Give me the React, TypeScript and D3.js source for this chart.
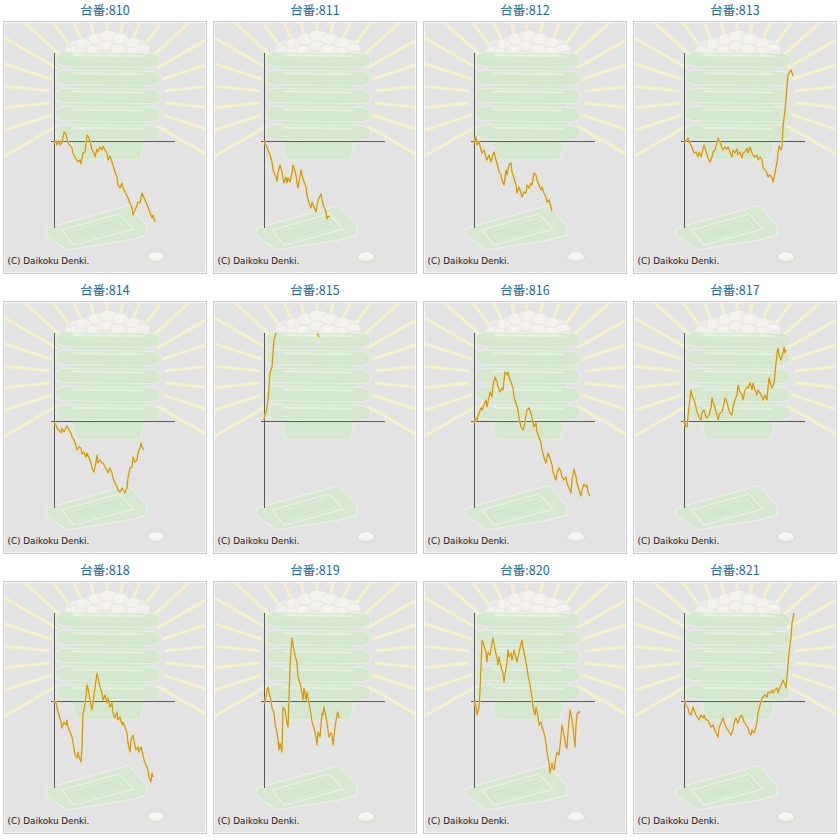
import React from "react";
import * as d3 from "d3";

// machine numbers (titles)
const machines = ["810", "811", "812", "813", "814", "815", "816", "817", "818", "819", "820", "821"];

// [games, coin difference]
const m810 = [[0,-200],[200,0],[300,-400],[500,0],[600,-400],[800,-200],[1000,900],[1200,700],[1400,-200],[1800,-700],[1900,-1200],[2100,-1600],[2400,-2100],[2600,-1900],[2700,-2300],[2900,-1200],[3100,-1100],[3300,600],[3400,500],[3600,0],[3800,-900],[4000,-1200],[4100,-1600],[4300,-800],[4400,-1100],[4600,-600],[4800,-900],[4900,-500],[5100,-900],[5300,-1200],[5400,-1900],[5600,-1500],[5800,-2100],[5900,-2400],[6100,-3100],[6300,-3600],[6400,-4400],[6600,-4700],[6800,-4200],[6900,-4700],[7100,-5100],[7400,-5700],[7600,-6200],[7800,-6700],[7900,-7400],[8100,-6900],[8300,-6400],[8400,-6100],[8600,-6200],[8800,-5200],[9000,-5700],[9200,-6100],[9400,-6600],[9500,-6900],[9700,-7400],[9800,-7700],[9900,-7400],[10100,-8100]];
const m811 = [[0,0],[200,-400],[400,-900],[600,-1400],[800,-2100],[900,-2900],[1200,-3600],[1300,-4000],[1400,-3200],[1600,-2400],[1800,-3100],[1900,-3700],[2000,-4200],[2200,-3600],[2300,-4200],[2400,-3700],[2600,-4100],[2800,-3200],[2900,-2400],[3000,-2700],[3200,-3400],[3300,-4200],[3400,-4700],[3500,-4100],[3700,-2900],[3800,-3400],[4000,-4100],[4200,-4600],[4300,-5400],[4500,-6200],[4700,-6700],[4800,-6100],[5000,-6600],[5200,-7100],[5300,-6400],[5500,-5700],[5700,-5300],[5800,-5900],[6000,-6600],[6200,-7100],[6300,-7800],[6400,-7500],[6600,-7600]];
const m812 = [[0,-200],[200,400],[300,-400],[500,-100],[700,-900],[800,-1200],[1000,-900],[1200,-1600],[1300,-1900],[1500,-1400],[1700,-2100],[1800,-1700],[2000,-1100],[2200,-1900],[2400,-2600],[2500,-3100],[2700,-3400],[2800,-3900],[3000,-4400],[3200,-2900],[3300,-3400],[3500,-2400],[3700,-2200],[3800,-3100],[4000,-3700],[4200,-4400],[4300,-5200],[4500,-4600],[4700,-5200],[4800,-5600],[5000,-5100],[5200,-5200],[5300,-4400],[5500,-4700],[5700,-4200],[5800,-4400],[6000,-3200],[6200,-3400],[6300,-3900],[6500,-4400],[6700,-4900],[6800,-4600],[7000,-5200],[7200,-5600],[7300,-6100],[7500,-5900],[7700,-6600],[7800,-7000]];
const m813 = [[0,-100],[300,100],[400,300],[500,-100],[700,-400],[900,-900],[1000,-1200],[1200,-1100],[1400,-1600],[1500,-1100],[1700,-1600],[1800,-1200],[2000,-400],[2100,-700],[2300,-1400],[2400,-1700],[2600,-2100],[2800,-1600],[2900,-1100],[3100,-900],[3300,-200],[3400,300],[3600,-100],[3800,-700],[3900,-900],[4100,-600],[4300,-800],[4400,-600],[4600,-1100],[4800,-1600],[4900,-900],[5100,-1200],[5300,-800],[5400,-1400],[5600,-1100],[5800,-1700],[5900,-1200],[6100,-1100],[6300,-700],[6400,-1200],[6600,-600],[6800,-1200],[6900,-1400],[7100,-1600],[7300,-1400],[7400,-1900],[7600,-1600],[7800,-1900],[7900,-2600],[8100,-2900],[8300,-3200],[8400,-3600],[8600,-3400],[8800,-3700],[8900,-4100],[9100,-3200],[9200,-2600],[9300,-2200],[9400,-1200],[9500,-500],[9700,-900],[9800,-600],[9900,1400],[10100,3100],[10300,5400],[10400,6600],[10500,6800],[10700,7100],[10800,6800],[10900,6500]];
const m814 = [[0,-100],[200,-400],[300,-700],[500,-900],[700,-1200],[800,-700],[1000,-1100],[1200,-700],[1300,-500],[1500,-900],[1700,-1200],[1800,-1600],[2000,-1900],[2200,-2400],[2300,-2900],[2500,-2600],[2700,-2700],[2800,-3300],[3000,-3100],[3200,-3600],[3300,-3200],[3500,-3700],[3700,-4200],[3800,-4700],[4000,-5100],[4200,-4100],[4300,-3400],[4400,-4200],[4600,-3900],[4800,-4200],[4900,-4200],[5100,-4600],[5300,-4900],[5400,-5200],[5600,-4700],[5800,-5200],[5900,-5700],[6100,-6200],[6300,-6600],[6400,-6900],[6600,-7100],[6800,-6700],[6900,-6900],[7100,-7200],[7300,-6600],[7400,-5700],[7600,-4700],[7800,-4600],[7900,-3600],[8100,-4100],[8300,-3900],[8400,-3200],[8600,-2700],[8700,-2200],[8800,-2600],[9000,-2900]];
const m815 = [[0,100],[100,600],[200,800],[400,2100],[500,3400],[600,4800],[800,5400],[900,6800],[1000,8100],[1200,8800],[1500,10500],[2000,12500],[2500,13500],[3000,14000],[3500,13500],[4000,12500],[4500,11500],[5000,10500],[5300,9300],[5400,8600],[5500,8400]];
const m816 = [[0,-200],[200,300],[300,100],[500,800],[700,1300],[800,1100],[1000,1600],[1200,2100],[1300,1400],[1400,1900],[1600,2900],[1800,2400],[1900,3600],[2100,4400],[2300,3900],[2400,3400],[2600,2900],[2800,3300],[2900,3100],[3100,4900],[3300,4600],[3400,4900],[3500,4400],[3700,3900],[3900,3300],[4000,2400],[4200,1800],[4400,1100],[4500,300],[4700,-600],[4900,-900],[5000,-600],[5200,600],[5300,1100],[5500,1300],[5700,800],[5800,300],[6000,-600],[6200,-200],[6300,-1100],[6500,-1600],[6700,-2200],[6800,-2900],[7000,-3600],[7200,-4200],[7300,-3700],[7400,-3200],[7600,-3700],[7800,-4400],[7900,-5100],[8200,-5900],[8300,-5200],[8500,-4700],[8700,-5100],[8800,-5600],[9000,-5900],[9200,-5600],[9300,-6200],[9500,-6700],[9700,-7200],[9800,-5900],[10000,-4800],[10200,-5600],[10300,-6200],[10500,-6900],[10700,-7500],[10800,-6900],[11000,-6300],[11200,-6600],[11300,-6400],[11400,-7100],[11600,-7500]];
const m817 = [[0,0],[100,-200],[200,-600],[300,-600],[500,1400],[700,3100],[800,2600],[1000,2100],[1200,1400],[1300,900],[1500,400],[1700,100],[1800,900],[2000,1100],[2200,400],[2300,300],[2500,600],[2700,1300],[2800,2300],[2900,1900],[3100,1300],[3300,600],[3400,100],[3600,800],[3800,900],[3900,1300],[4100,2300],[4300,1900],[4400,1400],[4600,800],[4800,600],[4900,1400],[5100,2100],[5300,2600],[5400,3600],[5600,2900],[5800,2600],[5900,2100],[6100,3100],[6300,3400],[6400,3300],[6600,3800],[6800,3100],[6900,3800],[7100,3100],[7300,2600],[7400,3100],[7600,2800],[7800,2400],[7900,2100],[8100,2600],[8300,2100],[8400,3300],[8500,4300],[8700,3600],[8800,3300],[9000,3800],[9100,4800],[9300,6800],[9400,7300],[9500,6600],[9700,6100],[9900,6800],[10000,7400],[10100,6800],[10200,7100]];
const m818 = [[0,0],[200,-100],[300,-700],[500,-1400],[700,-2100],[800,-2700],[1000,-2100],[1200,-2400],[1300,-1900],[1400,-2600],[1600,-3100],[1800,-3600],[1900,-4200],[2100,-5400],[2300,-5700],[2400,-5100],[2500,-5600],[2700,-6100],[2800,-4600],[2900,-1200],[3000,-900],[3200,400],[3300,1600],[3400,1300],[3600,100],[3800,-900],[3900,-100],[4100,1300],[4300,2800],[4400,2300],[4600,1400],[4800,800],[4900,100],[5100,600],[5300,-200],[5400,300],[5600,-600],[5800,-200],[5900,-1200],[6100,-1700],[6300,-1100],[6400,-1900],[6600,-1600],[6800,-2400],[6900,-2100],[7100,-2600],[7300,-3200],[7400,-4200],[7600,-5100],[7700,-3900],[7900,-3400],[8000,-4100],[8200,-4900],[8400,-4600],[8500,-5100],[8700,-4600],[8900,-5400],[9000,-5900],[9200,-6400],[9400,-6900],[9500,-7600],[9700,-8100],[9800,-7200],[9900,-7600]];
const m819 = [[0,-100],[100,-200],[200,400],[300,1100],[400,1400],[500,800],[700,100],[800,-700],[1000,-1200],[1100,-2200],[1300,-3200],[1400,-3900],[1500,-4900],[1600,-4200],[1800,-5100],[1900,-600],[2100,-900],[2300,-2200],[2400,-2600],[2500,100],[2600,3400],[2800,6300],[2900,5600],[3100,4600],[3300,3800],[3400,2400],[3600,1800],[3800,800],[3900,100],[4000,1300],[4200,100],[4300,900],[4500,-200],[4700,-1400],[4800,-2100],[5000,-2700],[5200,-3600],[5300,-4400],[5400,-3100],[5600,-3600],[5800,-1200],[5900,-1400],[6000,-600],[6200,-1600],[6300,-2200],[6500,-3600],[6700,-3200],[6800,-3400],[6900,-4400],[7100,-2600],[7300,-1400],[7400,-1100],[7500,-1700]];
const m820 = [[0,0],[200,-600],[300,-1400],[500,-600],[600,1100],[700,3400],[800,6100],[1000,5600],[1200,4800],[1300,3900],[1400,4900],[1600,4600],[1800,5800],[1900,6300],[2100,5100],[2300,4300],[2400,3600],[2500,4400],[2700,3400],[2900,2800],[3000,1900],[3100,2600],[3300,3800],[3400,5100],[3500,4400],[3700,4800],[3800,4100],[4000,5100],[4200,4300],[4300,3900],[4500,4900],[4600,5300],[4800,6100],[4900,5300],[5100,4400],[5300,3300],[5400,2600],[5600,1600],[5800,400],[5900,-600],[6100,-1400],[6200,-600],[6400,-1600],[6500,-2400],[6700,-2100],[6800,-2600],[7000,-3200],[7200,-4200],[7300,-5100],[7500,-6200],[7600,-7200],[7800,-6200],[7900,-6700],[8000,-6900],[8200,-5600],[8300,-5100],[8500,-5400],[8700,-3600],[8800,-2400],[9000,-3400],[9200,-4600],[9300,-4700],[9400,-3100],[9600,-900],[9800,-1900],[9900,-2600],[10100,-4600],[10200,-2400],[10300,-1400],[10400,-1100],[10500,-1200],[10600,-1000]];
const m821 = [[0,0],[100,-100],[200,-400],[400,-700],[500,-1200],[700,-1400],[900,-600],[1000,-900],[1200,-1400],[1400,-1700],[1500,-1900],[1700,-1400],[1900,-1700],[2000,-1400],[2200,-1900],[2400,-1900],[2500,-2200],[2700,-2600],[2900,-2400],[3000,-2700],[3200,-3200],[3400,-3600],[3500,-2700],[3700,-2200],[3900,-1700],[4000,-2100],[4200,-2600],[4400,-2900],[4500,-3100],[4700,-3400],[4900,-2900],[5000,-2200],[5200,-1700],[5400,-2200],[5500,-1900],[5700,-1400],[5900,-1700],[6000,-2100],[6200,-2400],[6400,-2700],[6500,-3100],[6700,-3400],[6800,-2900],[7000,-3200],[7200,-2600],[7300,-2100],[7400,-1200],[7600,-400],[7800,300],[7900,400],[8100,600],[8300,400],[8400,900],[8600,800],[8800,1100],[8900,800],[9100,1100],[9300,1300],[9400,800],[9600,1400],[9800,1800],[9900,2100],[10100,1600],[10200,1300],[10300,2400],[10500,4800],[10700,6400],[10800,7800],[11000,8800]];

const seriesList = [m810, m811, m812, m813, m814, m815, m816, m817, m818, m819, m820, m821];

const xDomain = [0, 12000];
const yDomain = [-8700, 8800];
const copyright = "(C) Daikoku Denki.";

const BOX_W = 204;
const BOX_H = 253;

function Decor() {
  const cx = 104, cy = 76;
  const angles = d3.range(-30, 211, 12);
  const balls = [
    [70, 30, 8, 5], [81, 23, 8, 6], [93, 18, 8, 6], [105, 15, 9, 6], [117, 18, 8, 6], [129, 22, 8, 6], [140, 28, 8, 5],
    [78, 32, 7, 5], [91, 29, 8, 5], [103, 25, 8, 5], [115, 28, 8, 5], [128, 31, 7, 5], [142, 34, 6, 4], [66, 35, 6, 4],
    [97, 34, 7, 4], [110, 35, 7, 4],
  ];
  const trays = d3.range(5);
  return (
    <g>
      {angles.map((a, i) => {
        const r = (a * Math.PI) / 180;
        return (
          <line key={i} x1={cx + 58 * Math.cos(r)} y1={cy - 58 * Math.sin(r)} x2={cx + 170 * Math.cos(r)} y2={cy - 170 * Math.sin(r)}
            stroke="#f5f2c9" strokeWidth={3} />
        );
      })}
      <g opacity={0.9}>
        <ellipse cx={105} cy={28} rx={43} ry={14} fill="#efeeea" />
        {balls.map((b, i) => (
          <ellipse key={i} cx={b[0]} cy={b[1]} rx={b[2]} ry={b[3]} fill="#f4f3f0" stroke="#dddcd6" strokeWidth={0.6} />
        ))}
        {[82, 98, 108, 124].map((x, i) => (
          <line key={i} x1={x} y1={20} x2={x} y2={40} stroke="#f3eec4" strokeWidth={1} />
        ))}
      </g>
      <g opacity={0.8}>
        <rect x={68} y={32} width={74} height={90} fill="#d3e8cd" />
        {trays.map((i) => {
          const y0 = 31 + i * 18.2;
          return (
            <g key={i}>
              <path d={`M53,${y0 + 3} L60,${y0} L150,${y0 + 1} L157,${y0 + 4} L157,${y0 + 13} L150,${y0 + 15} L60,${y0 + 14} L53,${y0 + 12} Z`}
                fill="#d3e9cc" stroke="#eef6ea" strokeWidth={0.8} />
              <line x1={70} y1={y0 + 3} x2={140} y2={y0 + 4} stroke="#e6f3e2" strokeWidth={2} />
              <line x1={60} y1={y0 + 13} x2={150} y2={y0 + 14} stroke="#cde4c7" strokeWidth={1} />
            </g>
          );
        })}
        <path d="M68,120 L142,120 L137,139 L74,139 Z" fill="#d3e9cc" stroke="#eef6ea" strokeWidth={0.8} />
      </g>
      <g opacity={0.8}>
        <path d="M44,207 L126,184.5 L144,205 L144,214 L126,219 L64,229 L42.5,214 Z" fill="#d5e9cf" stroke="#f2f8ef" strokeWidth={1} />
        <path d="M59,209 L116,193 L130,208 L71,224 Z" fill="#d1e7cb" stroke="#e9f4e5" strokeWidth={1.5} />
        <path d="M68,210 L114,197 L122,207 L75,220 Z" fill="none" stroke="#e0efdb" strokeWidth={1} />
      </g>
      <ellipse cx={153} cy={236} rx={9} ry={5} fill="#eeeeea" stroke="#d2d2cc" strokeWidth={0.8} />
      <ellipse cx={153} cy={234.5} rx={7} ry={3.2} fill="#f6f6f3" />
    </g>
  );
}

function Panel({ index }: { index: number }) {
  const col = index % 4;
  const row = Math.floor(index / 4);
  const bx = 3 + col * 210;
  const by = 21 + row * 280;
  const axisX = bx + 51;
  const axisTop = by + 32;
  const axisBottom = by + 207;
  const x = d3.scaleLinear().domain(xDomain).range([axisX, axisX + 120]);
  const y = d3.scaleLinear().domain(yDomain).range([axisBottom, axisTop]);
  const data = seriesList[index];
  const line = d3.line<number[]>().x((d) => x(d[0])).y((d) => y(d[1]));
  const clipId = `clip-${index}`;
  const boxClip = `boxclip-${index}`;
  return (
    <g>
      <text x={bx + BOX_W / 2} y={by - 6} textAnchor="middle" fontSize={12.5} fill="#21699b"
        fontFamily="'Noto Sans CJK JP', 'DejaVu Sans', sans-serif">{`台番:${machines[index]}`}</text>
      <defs>
        <clipPath id={clipId}>
          <rect x={bx} y={axisTop} width={BOX_W} height={axisBottom - axisTop} />
        </clipPath>
        <clipPath id={boxClip}>
          <rect x={bx + 2} y={by + 2} width={BOX_W - 4} height={BOX_H - 4} />
        </clipPath>
      </defs>
      <rect x={bx + 0.5} y={by + 0.5} width={BOX_W - 1} height={BOX_H - 1} fill="#e3e3e3" stroke="#c9c9c9" strokeWidth={1} />
      <rect x={bx + 1.5} y={by + 1.5} width={BOX_W - 3} height={BOX_H - 3} fill="none" stroke="#f7f7f7" strokeWidth={1} />
      <g clipPath={`url(#${boxClip})`}>
        <g transform={`translate(${bx},${by})`}>
          <Decor />
        </g>
      </g>
      <line x1={axisX + 0.5} y1={axisTop} x2={axisX + 0.5} y2={axisBottom} stroke="#5a5a5a" strokeWidth={1} />
      <line x1={x(-300)} y1={Math.round(y(0)) + 0.5} x2={x(12100)} y2={Math.round(y(0)) + 0.5} stroke="#5a5a5a" strokeWidth={1} />
      <g clipPath={`url(#${clipId})`}>
        <path d={line(data) || ""} fill="none" stroke="#f2df9c" strokeWidth={2.6} strokeLinejoin="round" opacity={0.6} />
        <path d={line(data) || ""} fill="none" stroke="#cf9814" strokeWidth={1.2} strokeLinejoin="round" />
      </g>
      <text x={bx + 4.5} y={by + 243} fontSize={8.8} fill="#1a1a1a" fontFamily="'DejaVu Sans', sans-serif">{copyright}</text>
    </g>
  );
}

export default function App() {
  return (
    <svg width={840} height={840} style={{ position: "absolute", left: 0, top: 0, background: "#ffffff" }}>
      {machines.map((m, i) => (
        <Panel key={m} index={i} />
      ))}
    </svg>
  );
}
